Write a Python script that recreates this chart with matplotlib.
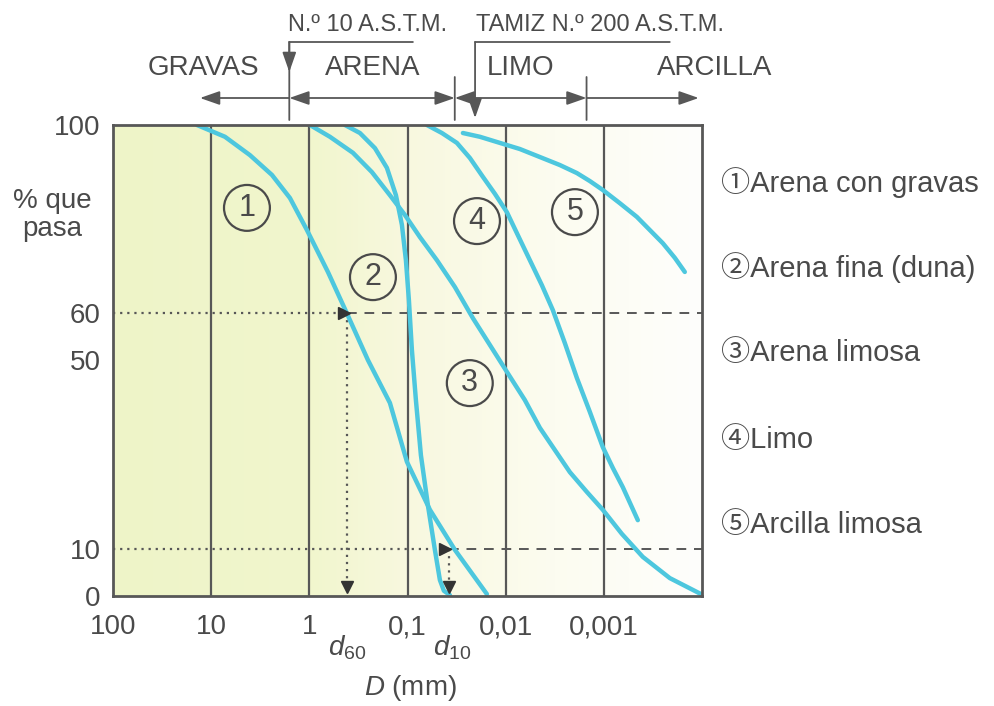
import matplotlib
matplotlib.use('Agg')
import matplotlib.pyplot as plt
import numpy as np
from matplotlib.colors import LinearSegmentedColormap
from matplotlib.ticker import NullLocator

plt.rcParams['font.family'] = ['Liberation Sans', 'Noto Sans CJK SC', 'DejaVu Sans']
plt.rcParams['mathtext.fontset'] = 'custom'
plt.rcParams['mathtext.it'] = 'Liberation Sans:italic'
plt.rcParams['mathtext.rm'] = 'Liberation Sans'

# curvas granulométricas: D (mm) y % que pasa
d_1 = [13.95, 7.236, 4.026, 2.404, 1.576, 1.058, 0.6466, 0.4142, 0.2531, 0.1511, 0.1014, 0.0591, 0.0329, 0.01553]
p_1 = [100, 97.5, 93.6, 89.4, 84.5, 77.7, 68.8, 60.0, 50.1, 41.0, 28.5, 18.3, 9.8, 0.4]
d_2 = [0.434, 0.3053, 0.2148, 0.1621, 0.1312, 0.114, 0.1038, 0.09676, 0.09018, 0.08212, 0.07302,
       0.06199, 0.0526, 0.04678, 0.04258, 0.037]
p_2 = [100, 98.3, 95.1, 90.9, 85.1, 78.8, 71.3, 62.8, 52.2, 41.6, 29.9, 19.3, 9.8, 3.4, 1.1, 0.2]
d_3 = [0.986, 0.6171, 0.3597, 0.2304, 0.1511, 0.1063, 0.07475, 0.05019, 0.0329, 0.02158, 0.01448,
       0.009723, 0.006375, 0.004483, 0.003155, 0.002219, 0.00149, 0.001024, 0.0006557, 0.0004008,
       0.0002128, 0.0001]
p_3 = [100, 97.5, 94.1, 90.0, 85.1, 80.9, 76.2, 71.3, 65.6, 59.0, 53.3, 47.6, 41.6, 35.7, 31.0, 26.3,
       22.1, 18.3, 13.2, 8.3, 3.8, 0.3]
d_4 = [0.06343, 0.04464, 0.0314, 0.02315, 0.01707, 0.01288, 0.009723, 0.00751, 0.00567, 0.004279,
       0.003307, 0.002495, 0.001883, 0.001389, 0.001024, 0.0008102, 0.0006406, 0.0004506]
p_4 = [100, 98.3, 96.2, 93.0, 89.0, 85.4, 81.5, 76.6, 71.3, 66.0, 60.7, 53.7, 46.3, 39.1, 31.6, 27.2,
       23.1, 16.1]
d_5 = [0.02727, 0.01831, 0.01146, 0.007165, 0.004483, 0.002806, 0.001883, 0.001389, 0.001024,
       0.0006871, 0.0004613, 0.0003401, 0.0002507, 0.0001892, 0.0001497]
p_5 = [98.3, 97.5, 96.2, 94.9, 93.2, 91.5, 89.8, 88.1, 86.2, 83.4, 80.5, 77.7, 74.9, 71.8, 68.8]

curvas = [(d_1, p_1), (d_2, p_2), (d_3, p_3), (d_4, p_4), (d_5, p_5)]
marcas = ['①', '②', '③', '④', '⑤']
nombres = ['Arena con gravas', 'Arena fina (duna)', 'Arena limosa', 'Limo', 'Arcilla limosa']
# posición de los círculos numerados (D, %)
pos_marcas = [(4.32, 82.4), (0.225, 67.7), (0.0232, 45.2), (0.0196, 79.6), (0.00197, 81.5)]

x_ticks = [100, 10, 1, 0.1, 0.01, 0.001]
x_labels = ['100', '10', '1', '0,1', '0,01', '0,001']
y_ticks = [0, 10, 50, 60, 100]
y_labels = ['0', '10', '50', '60', '100']

d60 = 0.414
d10 = 0.038

# límites de fracciones (mm)
tamiz_10 = 1.6
lim_arena_limo = 0.033
tamiz_200 = 0.0205
lim_limo_arcilla = 0.0015
fin_gravas = 13.0
fin_arcilla = 0.000108
fin_llave_10 = 0.0881
fin_llave_200 = 0.000213

cian = '#4dc7de'
gris = '#575757'
texto = '#4a4a4a'

fig = plt.figure(figsize=(9.94, 7.06), dpi=100)
ax = fig.add_axes([113 / 994, 1 - 596 / 706, 589 / 994, 471 / 706])

# fondo degradado
grad = np.linspace(0, 1, 256).reshape(1, -1)
cmap = LinearSegmentedColormap.from_list('fondo', [(0, '#eef4c8'), (0.33, '#f1f6cd'), (0.5, '#f8f8df'),
                                                   (0.75, '#fcfcf0'), (1, '#fefefc')])
ax.imshow(grad, extent=[0, 1, 0, 1], transform=ax.transAxes, cmap=cmap, aspect='auto', zorder=0)

ax.set_xscale('log')
ax.set_xlim(100, 1e-4)
ax.set_ylim(0, 100)

for xv in x_ticks[1:]:
    ax.axvline(xv, color=gris, lw=1.6, zorder=1)

ax.set_xticks(x_ticks)
ax.set_xticklabels(x_labels)
ax.xaxis.set_minor_locator(NullLocator())
ax.set_yticks(y_ticks)
ax.set_yticklabels(y_labels)
ax.tick_params(axis='both', length=0, labelsize=20, labelcolor=texto)
ax.tick_params(axis='x', pad=13)
ax.tick_params(axis='y', pad=9)
for s in ax.spines.values():
    s.set_color(gris)
    s.set_linewidth(2)
    s.set_zorder(5)

# líneas de d60 y d10
ax.plot([100, d60], [60, 60], color=gris, lw=1.6, ls=(0, (1, 2.2)), zorder=2)
ax.plot([d60, 1e-4], [60, 60], color=gris, lw=1.4, ls=(0, (5, 4)), zorder=2)
ax.plot([d60 * 1.06], [60], marker='>', color='#333333', ms=9, zorder=4)
ax.plot([d60, d60], [60, 2.5], color=gris, lw=1.6, ls=(0, (1, 2.2)), zorder=2)
ax.plot([d60], [2], marker='v', color='#333333', ms=9, zorder=4)

ax.plot([100, d10], [10, 10], color=gris, lw=1.6, ls=(0, (1, 2.2)), zorder=2)
ax.plot([d10, 1e-4], [10, 10], color=gris, lw=1.4, ls=(0, (5, 4)), zorder=2)
ax.plot([d10 * 1.08], [10], marker='>', color='#333333', ms=9, zorder=4)
ax.plot([d10, d10], [10, 2.5], color=gris, lw=1.6, ls=(0, (1, 2.2)), zorder=2)
ax.plot([d10], [2], marker='v', color='#333333', ms=9, zorder=4)

# curvas
for d, p in curvas:
    ax.plot(d, p, color=cian, lw=3.2, zorder=3, solid_joinstyle='round', solid_capstyle='round')

for m, (xm, ym) in zip(range(1, 6), pos_marcas):
    ax.text(xm, ym, str(m), fontsize=22, color=texto, ha='center', va='center', zorder=6,
            bbox=dict(boxstyle='circle,pad=0.26', fc='none', ec=texto, lw=1.6))

# leyenda derecha
for i, (mk, nm) in enumerate(zip(marcas, nombres)):
    yp = [183, 268, 353, 440, 525][i]
    fig.text(721 / 994, 1 - yp / 706, mk + nm, fontsize=21, color=texto, ha='left', va='center')

# ejes: etiquetas
fig.text(52 / 994, 1 - 215 / 706, '% que\npasa', fontsize=20, color=texto, ha='center', va='center',
         linespacing=1.1)
fig.text(347 / 994, 1 - 648 / 706, r'$\mathit{d}_{\mathrm{60}}$', fontsize=20, color=texto, ha='center', va='center')
fig.text(452 / 994, 1 - 648 / 706, r'$\mathit{d}_{\mathrm{10}}$', fontsize=20, color=texto, ha='center', va='center')
fig.text(410 / 994, 1 - 688 / 706, r'$\mathit{D}$ (mm)', fontsize=20, color=texto, ha='center', va='center')

# fracciones en la parte superior
def fy(py):
    return 706 - py

cs = ('data', 'figure pixels')
flecha = dict(arrowstyle='-|>,head_length=1.0,head_width=0.35', color=gris, lw=1.3,
              shrinkA=0, shrinkB=0, mutation_scale=12)
doble = dict(arrowstyle='<|-|>,head_length=1.0,head_width=0.35', color=gris, lw=1.3,
             shrinkA=0, shrinkB=0, mutation_scale=12)
linea = dict(arrowstyle='-', color=gris, lw=1.3, shrinkA=0, shrinkB=0)

ax.annotate('', xy=(fin_gravas, fy(98)), xytext=(tamiz_10, fy(98)), xycoords=cs, textcoords=cs, arrowprops=flecha)
ax.annotate('', xy=(tamiz_10, fy(98)), xytext=(lim_arena_limo, fy(98)), xycoords=cs, textcoords=cs, arrowprops=doble)
ax.annotate('', xy=(lim_arena_limo, fy(98)), xytext=(lim_limo_arcilla, fy(98)), xycoords=cs, textcoords=cs, arrowprops=doble)
ax.annotate('', xy=(fin_arcilla, fy(98)), xytext=(lim_limo_arcilla, fy(98)), xycoords=cs, textcoords=cs, arrowprops=flecha)

for xv in [lim_arena_limo, lim_limo_arcilla]:
    ax.annotate('', xy=(xv, fy(77)), xytext=(xv, fy(120)), xycoords=cs, textcoords=cs, arrowprops=linea)

# tamiz n.º 10
ax.annotate('', xy=(tamiz_10, fy(42)), xytext=(fin_llave_10, fy(42)), xycoords=cs, textcoords=cs, arrowprops=linea)
ax.annotate('', xy=(tamiz_10, fy(120)), xytext=(tamiz_10, fy(42)), xycoords=cs, textcoords=cs, arrowprops=linea)
ax.annotate('', xy=(tamiz_10, fy(72)), xytext=(tamiz_10, fy(42)), xycoords=cs, textcoords=cs, arrowprops=flecha)
# tamiz n.º 200
ax.annotate('', xy=(tamiz_200, fy(42)), xytext=(fin_llave_200, fy(42)), xycoords=cs, textcoords=cs, arrowprops=linea)
ax.annotate('', xy=(tamiz_200, fy(118)), xytext=(tamiz_200, fy(42)), xycoords=cs, textcoords=cs, arrowprops=flecha)

fig.text(288 / 994, 1 - 25 / 706, 'N.º 10 A.S.T.M.', fontsize=17, color=texto, ha='left', va='center')
fig.text(476 / 994, 1 - 25 / 706, 'TAMIZ N.º 200 A.S.T.M.', fontsize=17, color=texto, ha='left', va='center')
fig.text(203 / 994, 1 - 68 / 706, 'GRAVAS', fontsize=20, color=texto, ha='center', va='center')
fig.text(373 / 994, 1 - 68 / 706, 'ARENA', fontsize=20, color=texto, ha='center', va='center')
fig.text(521 / 994, 1 - 68 / 706, 'LIMO', fontsize=20, color=texto, ha='center', va='center')
fig.text(715 / 994, 1 - 68 / 706, 'ARCILLA', fontsize=20, color=texto, ha='center', va='center')

fig.savefig('out.png', dpi=100)
